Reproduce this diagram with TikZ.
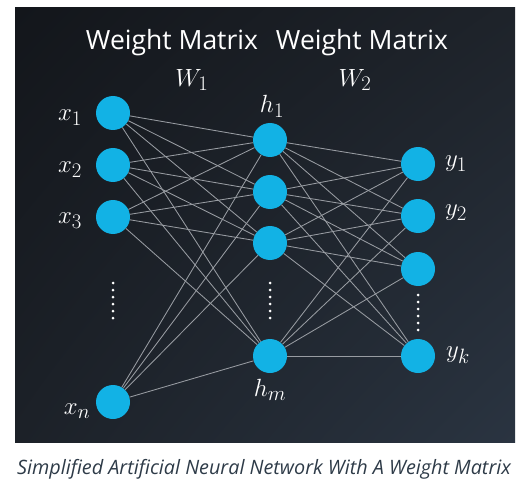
\documentclass[tikz,border=0pt]{standalone}
\usepackage{fontspec}
\setmainfont{Open Sans}
\usepackage{amsmath}
\usetikzlibrary{shadings}

\definecolor{neuroncyan}{HTML}{12B2E5}
\definecolor{wiregray}{HTML}{989CA2}
\definecolor{captiongray}{HTML}{2E3B48}
\definecolor{panelul}{HTML}{13161B}
\definecolor{panelur}{HTML}{1E232A}
\definecolor{panelll}{HTML}{1C2128}
\definecolor{panellr}{HTML}{2A3441}

\begin{document}
\begin{tikzpicture}[x=1pt,y=-1pt,
    neuron/.style={circle,fill=neuroncyan,minimum size=34pt,inner sep=0pt},
    wire/.style={wiregray,line width=0.85pt},
    mathlbl/.style={text=white,font=\fontsize{28}{32}\selectfont},
    titlelbl/.style={text=white,font=\fontsize{26.5}{30}\selectfont}]
    \useasboundingbox (0,0) rectangle (524,497);

    % draw panel
    \shade[upper left=panelul,upper right=panelur,lower left=panelll,lower right=panellr]
        (15,8) rectangle (515,442);

    % draw neurons
    \node[neuron] (x1) at (113,113) {};
    \node[neuron] (x2) at (113,165) {};
    \node[neuron] (x3) at (113,217) {};
    \node[neuron] (xn) at (113,402) {};
    \node[neuron] (h1) at (270,140) {};
    \node[neuron] (h2) at (270,192) {};
    \node[neuron] (h3) at (270,243) {};
    \node[neuron] (hm) at (270,356) {};
    \node[neuron] (y1) at (418,164) {};
    \node[neuron] (y2) at (418,216) {};
    \node[neuron] (y3) at (418,269) {};
    \node[neuron] (yk) at (418,356) {};

    % draw connections
    \foreach \a in {x1,x2,x3,xn}
    \foreach \b in {h1,h2,h3,hm}
    \draw[wire] (\a) -- (\b);
    \foreach \a in {h1,h2,h3,hm}
    \foreach \b in {y1,y2,y3,yk}
    \draw[wire] (\a) -- (\b);

    % draw dots
    \foreach \k in {0,...,5} {
    \fill[white] (113,283+7*\k) circle (1.5);
    \fill[white] (270,283+7*\k) circle (1.5);
    \fill[white] (418,295+7*\k) circle (1.5);
    }

    % draw labels
    \node[mathlbl] (lx1) at (70,118) {$x_1$};
    \node[mathlbl] (lx2) at (70,170) {$x_2$};
    \node[mathlbl] (lx3) at (70,221) {$x_3$};
    \node[mathlbl] (lxn) at (77,411) {$x_n$};
    \node[mathlbl] (lh1) at (272,106) {$h_1$};
    \node[mathlbl] (lhm) at (270,390) {$h_m$};
    \node[mathlbl] (ly1) at (456,164) {$y_1$};
    \node[mathlbl] (ly2) at (456,213) {$y_2$};
    \node[mathlbl] (lyk) at (458,355) {$y_k$};
    \node[mathlbl] (lw1) at (192,80) {$W_1$};
    \node[mathlbl] (lw2) at (355,80) {$W_2$};
    \node[titlelbl] (wm1) at (172,43) {Weight Matrix};
    \node[titlelbl] (wm2) at (362,43) {Weight Matrix};

    % draw caption
    \node[text=captiongray,font=\fontsize{19.8}{24}\selectfont\itshape] (cap) at (264,469) {Simplified Artificial Neural Network With A Weight Matrix};
\end{tikzpicture}
\end{document}
